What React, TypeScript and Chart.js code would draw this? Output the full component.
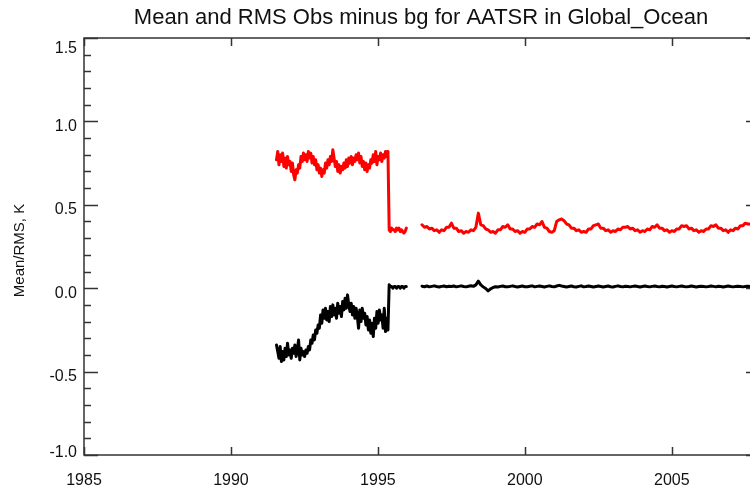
import React, { useEffect, useRef } from "react";
import { Chart, registerables } from "chart.js";

Chart.register(...registerables);

const TITLE = "Mean and RMS Obs minus bg for AATSR in Global_Ocean";
const Y_TITLE = "Mean/RMS, K";

// ERS-2 era samples, every half month starting mid-1991
const EARLY_START = 1991.55;
const EARLY_STEP = 1 / 24;
// Envisat era samples, monthly from mid-1996
const LATE_START = 1996.5;
const LATE_STEP = 1 / 12;

const X_MIN = 1985;
const X_MAX = 2008;
const Y_MIN = -1;
const Y_MAX = 1.5;

const rmsEarly = [
  0.77, 0.82, 0.74, 0.8, 0.76, 0.81,
  0.73, 0.78, 0.72, 0.79, 0.74, 0.76,
  0.7, 0.75, 0.68, 0.65, 0.71, 0.69,
  0.74, 0.72, 0.79, 0.76, 0.81, 0.77,
  0.8, 0.76, 0.82, 0.78, 0.81, 0.75,
  0.79, 0.74, 0.77, 0.71, 0.74, 0.69,
  0.72, 0.67, 0.71, 0.69, 0.75, 0.72,
  0.77, 0.74, 0.79, 0.76, 0.83, 0.78,
  0.73, 0.76, 0.7, 0.74, 0.69, 0.73,
  0.71, 0.75, 0.72, 0.77, 0.73, 0.78,
  0.75, 0.79, 0.74, 0.78, 0.76, 0.8,
  0.77, 0.81, 0.75, 0.79, 0.73, 0.76,
  0.71, 0.75, 0.7, 0.74, 0.72, 0.77,
  0.75, 0.8, 0.76, 0.82, 0.74, 0.79,
  0.77, 0.81, 0.76, 0.8, 0.78, 0.82,
  0.79, 0.82,
  0.35, 0.34, 0.36, 0.35, 0.35, 0.34, 0.36, 0.35, 0.36, 0.34, 0.35, 0.34, 0.33, 0.34, 0.36,
];

const meanEarly = [
  -0.34, -0.38, -0.42, -0.35, -0.44, -0.38,
  -0.43, -0.36, -0.41, -0.33, -0.4, -0.37,
  -0.42, -0.36, -0.39, -0.34, -0.41, -0.37,
  -0.31, -0.43, -0.36, -0.4, -0.38, -0.41,
  -0.37, -0.39, -0.35, -0.37, -0.31, -0.33,
  -0.28, -0.31, -0.25, -0.27, -0.22, -0.24,
  -0.16, -0.21, -0.13, -0.18, -0.12, -0.19,
  -0.14, -0.2, -0.11, -0.17, -0.1, -0.16,
  -0.12, -0.18, -0.09, -0.15, -0.11, -0.17,
  -0.08, -0.13, -0.06, -0.12, -0.04, -0.1,
  -0.14, -0.09, -0.16, -0.11, -0.18, -0.12,
  -0.17, -0.24, -0.13, -0.2, -0.12, -0.18,
  -0.15, -0.22, -0.17, -0.25, -0.19, -0.27,
  -0.21, -0.29, -0.18, -0.24, -0.14, -0.21,
  -0.13, -0.19, -0.16, -0.24, -0.12, -0.26,
  -0.18, -0.25,
  0.02, 0.01, 0.01, 0.0, 0.01, 0.01, 0.0, 0.01, 0.01, 0.0, 0.01, 0.01, 0.0, 0.01, 0.01,
];

const rmsLate = [
  0.38, 0.365, 0.37, 0.355, 0.36, 0.345, 0.35, 0.335, 0.35, 0.345, 0.365, 0.365,
  0.39, 0.36, 0.36, 0.34, 0.345, 0.33, 0.34, 0.335, 0.35, 0.345, 0.365, 0.45,
  0.38, 0.375, 0.355, 0.35, 0.335, 0.34, 0.33, 0.35, 0.35, 0.37, 0.365, 0.38,
  0.355, 0.355, 0.34, 0.345, 0.33, 0.34, 0.335, 0.355, 0.355, 0.37, 0.365, 0.385,
  0.38, 0.4, 0.365, 0.36, 0.34, 0.335, 0.345, 0.4, 0.41, 0.415, 0.405, 0.385,
  0.38, 0.36, 0.36, 0.345, 0.35, 0.335, 0.34, 0.335, 0.355, 0.355, 0.375, 0.38,
  0.385, 0.36, 0.36, 0.345, 0.35, 0.335, 0.345, 0.34, 0.355, 0.35, 0.365, 0.365,
  0.37, 0.355, 0.36, 0.345, 0.35, 0.335, 0.345, 0.34, 0.355, 0.35, 0.37, 0.365,
  0.38, 0.36, 0.36, 0.345, 0.35, 0.335, 0.345, 0.34, 0.355, 0.355, 0.375, 0.37,
  0.375, 0.355, 0.36, 0.345, 0.35, 0.335, 0.345, 0.34, 0.355, 0.355, 0.375, 0.37,
  0.38, 0.36, 0.36, 0.345, 0.35, 0.335, 0.35, 0.345, 0.36, 0.355, 0.375, 0.375,
  0.39, 0.385, 0.385, 0.365, 0.365, 0.35, 0.355,
];

const meanLate = [
  0.012, 0.009, 0.013, 0.008, 0.011, 0.014, 0.01, 0.007, 0.011, 0.013, 0.009, 0.012,
  0.01, 0.013, 0.008, 0.011, 0.014, 0.01, 0.008, 0.012, 0.015, 0.011, 0.02, 0.042,
  0.02, 0.008, -0.002, -0.016, -0.004, 0.004, 0.009, 0.007, 0.011, 0.013, 0.009, 0.008,
  0.011, 0.014, 0.01, 0.007, 0.01, 0.013, 0.009, 0.008, 0.012, 0.014, 0.008, 0.011,
  0.013, 0.01, 0.007, 0.011, 0.014, 0.01, 0.008, 0.013, 0.017, 0.013, 0.01, 0.007,
  0.01, 0.013, 0.009, 0.007, 0.011, 0.014, 0.008, 0.01, 0.013, 0.01, 0.007, 0.01,
  0.013, 0.01, 0.007, 0.01, 0.013, 0.009, 0.007, 0.011, 0.014, 0.01, 0.008, 0.012,
  0.01, 0.008, 0.011, 0.013, 0.01, 0.007, 0.01, 0.013, 0.01, 0.008, 0.011, 0.013,
  0.01, 0.008, 0.012, 0.01, 0.007, 0.01, 0.013, 0.01, 0.008, 0.011, 0.013, 0.01,
  0.008, 0.01, 0.013, 0.01, 0.007, 0.01, 0.012, 0.01, 0.008, 0.01, 0.013, 0.011,
  0.008, 0.012, 0.01, 0.007, 0.01, 0.013, 0.01, 0.008, 0.01, 0.012, 0.01, 0.008,
  0.01, 0.012, 0.01, 0.008, 0.01, 0.012, 0.01,
];

type Pt = { x: number; y: number | null };

function series(early: number[], late: number[]): Pt[] {
  const a: Pt[] = early.map((v, i) => ({ x: EARLY_START + i * EARLY_STEP, y: v }));
  const b: Pt[] = late.map((v, i) => ({ x: LATE_START + i * LATE_STEP, y: v }));
  // break the line in the mid-1996 data gap
  return [...a, { x: 1996.25, y: null }, ...b];
}

const FONT = '"Liberation Sans", Arial, Helvetica, sans-serif';
const AXIS_COLOR = "#333333";

const isMultiple = (v: number, step: number) =>
  Math.abs(v / step - Math.round(v / step)) < 1e-6;

// IDL-style frame: box axes, inward ticks, labels and titles
const framePlugin = {
  id: "idlFrame",
  afterDraw(chart: any) {
    const { ctx, chartArea: a, scales } = chart;
    const x = scales.x;
    const y = scales.y;
    ctx.save();
    ctx.strokeStyle = AXIS_COLOR;
    ctx.lineWidth = 1.5;
    ctx.strokeRect(a.left, a.top, a.right - a.left, a.bottom - a.top);

    ctx.beginPath();
    // y ticks, major every 0.5, minor every 0.1
    for (const t of y.ticks) {
      const py = Math.round(y.getPixelForValue(t.value)) + 0.5;
      const len = isMultiple(t.value, 0.5) ? 14 : 7;
      ctx.moveTo(a.left, py);
      ctx.lineTo(a.left + len, py);
      ctx.moveTo(a.right, py);
      ctx.lineTo(a.right - len, py);
    }
    // x ticks every 5 years
    for (const t of x.ticks) {
      if (!isMultiple(t.value, 5)) continue;
      const px = Math.round(x.getPixelForValue(t.value)) + 0.5;
      ctx.moveTo(px, a.bottom);
      ctx.lineTo(px, a.bottom - 8);
      ctx.moveTo(px, a.top);
      ctx.lineTo(px, a.top + 8);
    }
    ctx.stroke();

    ctx.fillStyle = "#111111";
    ctx.font = `16px ${FONT}`;
    ctx.textBaseline = "alphabetic";

    // y tick labels
    ctx.textAlign = "right";
    for (const t of y.ticks) {
      if (!isMultiple(t.value, 0.5)) continue;
      const py = y.getPixelForValue(t.value);
      const base = Math.min(Math.max(py + 9.5, a.top + 15), a.bottom + 2);
      ctx.fillText(t.value.toFixed(1), a.left - 7, base);
    }

    // x tick labels
    ctx.textAlign = "center";
    for (const t of x.ticks) {
      if (!isMultiple(t.value, 5)) continue;
      ctx.fillText(String(Math.round(t.value)), x.getPixelForValue(t.value), a.bottom + 30);
    }

    // title
    ctx.font = `22px ${FONT}`;
    ctx.textBaseline = "middle";
    ctx.fillText(TITLE, (a.left + a.right) / 2 - 1, 18);

    // y axis title
    ctx.font = `15px ${FONT}`;
    ctx.translate(20, (a.top + a.bottom) / 2 + 4);
    ctx.rotate(-Math.PI / 2);
    ctx.fillText(Y_TITLE, 0, 0);
    ctx.restore();
  },
};

export default function App() {
  const canvasRef = useRef<HTMLCanvasElement | null>(null);

  useEffect(() => {
    document.body.style.margin = "0";
    document.body.style.overflow = "hidden";
    const canvas = canvasRef.current;
    if (!canvas) return;

    const chart = new Chart(canvas, {
      type: "line",
      data: {
        datasets: [
          {
            label: "RMS",
            data: series(rmsEarly, rmsLate) as any,
            borderColor: "#ff0000",
            borderWidth: 3,
            pointRadius: 0,
            spanGaps: false,
            tension: 0,
          },
          {
            label: "Mean",
            data: series(meanEarly, meanLate) as any,
            borderColor: "#000000",
            borderWidth: 3,
            pointRadius: 0,
            spanGaps: false,
            tension: 0,
          },
        ],
      },
      options: {
        animation: false,
        responsive: false,
        devicePixelRatio: 1,
        parsing: false as any,
        layout: { padding: { left: 0, top: 38, right: 40, bottom: 0 } },
        plugins: {
          legend: { display: false },
          tooltip: { enabled: false },
          title: { display: false },
        },
        elements: {
          line: { borderJoinStyle: "round", borderCapStyle: "round" },
        },
        scales: {
          x: {
            type: "linear",
            min: X_MIN,
            max: X_MAX,
            ticks: { display: false, stepSize: 5 },
            grid: { display: false },
            border: { display: false },
            afterFit: (s: any) => {
              s.height = 32;
            },
          },
          y: {
            type: "linear",
            min: Y_MIN,
            max: Y_MAX,
            ticks: { display: false, stepSize: 0.1 },
            grid: { display: false },
            border: { display: false },
            afterFit: (s: any) => {
              s.width = 84;
            },
          },
        },
      },
      plugins: [framePlugin],
    });

    return () => chart.destroy();
  }, []);

  return (
    <div style={{ width: 750, height: 487, overflow: "hidden", background: "#fff" }}>
      <canvas ref={canvasRef} width={800} height={487} style={{ display: "block" }} />
    </div>
  );
}
